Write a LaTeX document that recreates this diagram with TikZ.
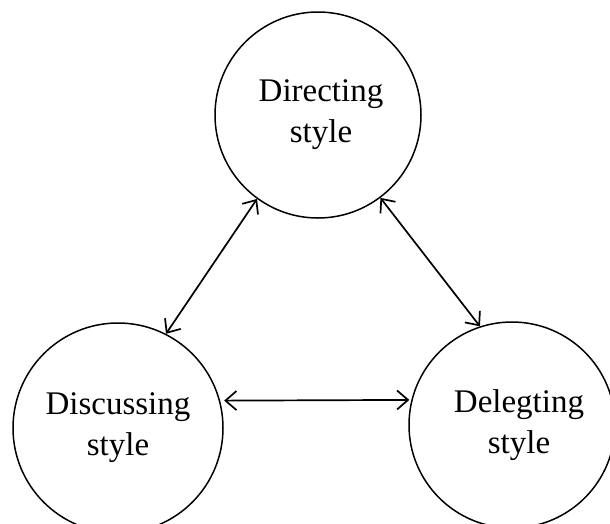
\documentclass[tikz,border=0pt]{standalone}
\usepackage{fontspec}
\setmainfont{Liberation Serif}
\usetikzlibrary{arrows.meta}
\begin{document}
\begin{tikzpicture}[x=1pt,y=-1pt,
  stylecircle/.style={draw, circle, line width=1.5pt, inner sep=0pt,
    align=center, font=\fontsize{33}{41}\selectfont},
  barb/.tip={Straight Barb[length=11pt,width=19pt,line width=1.7pt]},
  link/.style={line width=1.7pt, barb-barb}
]
\useasboundingbox (0,0) rectangle (610,523);
\clip (0,0) rectangle (610,523);

% the three leadership styles
\node[stylecircle, minimum size=206pt] (dir) at (318,115) {\hspace*{6pt}Directing\\\hspace*{6pt}style};
\node[stylecircle, minimum size=210pt] (dis) at (118,428) {Discussing\\style};
\node[stylecircle, minimum size=206pt] (del) at (512,425) {\hspace*{14pt}Delegting\\\hspace*{14pt}style};

% two-way links between the styles
\draw[link] (dir.234) -- (dis.63);
\draw[link] (dir.307) -- (del.108);
\draw[link, shorten <=4pt, shorten >=2pt] (dis.15) -- (del.166);
\end{tikzpicture}
\end{document}
